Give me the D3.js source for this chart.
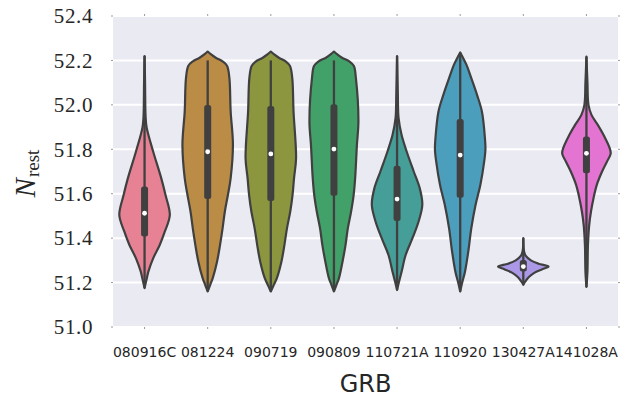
<!DOCTYPE html>
<html>
<head>
<meta charset="utf-8">
<script src="https://cdn.jsdelivr.net/npm/d3@7/dist/d3.min.js"></script>
<style>
  body { margin: 0; background: #ffffff; }
  svg { display: block; }
</style>
</head>
<body>
<svg id="chart" width="627" height="400"></svg>
<script>
// GRB identifiers on the x axis
const categories = ["080916C", "081224", "090719", "090809", "110721A", "110920", "130427A", "141028A"];

// husl palette, softened before use
const baseColors = ["#f77189", "#ce9032", "#97a431", "#32b166", "#36ada4", "#39a7d0", "#a48cf4", "#f561dd"];

// Violin outlines: [N_rest value, relative half-width], top to bottom
const shape080916C = [[52.22,0],[52.10,0.02],[51.95,0.04],[51.90,0.08],[51.79,0.34],[51.67,0.66],[51.594,0.83],[51.504,1.0],[51.429,0.80],[51.369,0.60],[51.309,0.34],[51.249,0.15],[51.22,0.09],[51.175,0]];
const shape081224  = [[52.24,0],[52.228,0.12],[52.212,0.32],[52.195,0.60],[52.175,0.77],[52.12,0.86],[51.97,0.91],[51.82,1.0],[51.67,0.91],[51.594,0.80],[51.52,0.68],[51.444,0.59],[51.37,0.49],[51.294,0.37],[51.22,0.20],[51.19,0.10],[51.16,0]];
const shape090719  = [[52.24,0],[52.228,0.12],[52.212,0.32],[52.195,0.60],[52.175,0.76],[52.12,0.85],[51.97,0.90],[51.76,1.0],[51.67,0.92],[51.594,0.86],[51.52,0.77],[51.444,0.64],[51.37,0.54],[51.294,0.42],[51.22,0.24],[51.19,0.12],[51.16,0]];
const shape090809  = [[52.24,0],[52.228,0.12],[52.212,0.32],[52.195,0.62],[52.175,0.79],[52.12,0.87],[51.924,0.97],[51.82,0.91],[51.67,0.84],[51.594,0.78],[51.52,0.68],[51.444,0.55],[51.37,0.46],[51.294,0.34],[51.22,0.20],[51.19,0.10],[51.16,0]];
const shape110721A = [[52.22,0],[52.05,0.03],[51.94,0.06],[51.864,0.18],[51.79,0.38],[51.70,0.66],[51.624,0.90],[51.55,1.0],[51.474,0.85],[51.40,0.61],[51.324,0.34],[51.249,0.18],[51.20,0.07],[51.167,0]];
const shape110920  = [[52.236,0],[52.18,0.25],[52.12,0.44],[52.044,0.67],[51.97,0.86],[51.85,0.98],[51.80,1.0],[51.744,0.95],[51.64,0.80],[51.55,0.61],[51.444,0.44],[51.339,0.32],[51.249,0.19],[51.20,0.08],[51.16,0]];
const shape130427A = [[51.40,0],[51.34,0.03],[51.32,0.10],[51.30,0.30],[51.285,0.60],[51.272,1.0],[51.26,0.75],[51.245,0.45],[51.225,0.22],[51.205,0.08],[51.19,0]];
const shape141028A = [[52.217,0],[52.10,0.04],[52.0,0.08],[51.955,0.20],[51.91,0.45],[51.864,0.68],[51.805,0.92],[51.78,0.96],[51.744,0.81],[51.70,0.62],[51.64,0.41],[51.58,0.28],[51.52,0.18],[51.46,0.11],[51.37,0.06],[51.25,0.04],[51.18,0]];
const shapes = [shape080916C, shape081224, shape090719, shape090809, shape110721A, shape110920, shape130427A, shape141028A];

// Inner box statistics per GRB
const q1Values      = [51.407, 51.576, 51.567, 51.591, 51.477, 51.582, 51.250, 51.692];
const medianValues  = [51.512, 51.789, 51.779, 51.801, 51.576, 51.774, 51.272, 51.782];
const q3Values      = [51.632, 51.999, 51.995, 52.003, 51.726, 51.936, 51.302, 51.857];
const whiskerLow    = [51.175, 51.16, 51.16, 51.16, 51.167, 51.16, 51.19, 51.18];
const whiskerHigh   = [52.22, 52.20, 52.20, 52.20, 52.22, 52.236, 51.40, 52.217];

const yTicks = [51.0, 51.2, 51.4, 51.6, 51.8, 52.0, 52.2, 52.4];

const plot = { left: 113, right: 618, top: 16, bottom: 327 };
const gray = "#404040";

const svg = d3.select("#chart");

const x = d3.scaleBand().domain(categories).range([plot.left, plot.right]).padding(0);
const y = d3.scaleLinear().domain([51.0, 52.4]).range([plot.bottom, plot.top]);
const halfMax = x.bandwidth() * 0.4;
const w = d3.scaleLinear().domain([0, 1]).range([0, halfMax]);

const fills = baseColors.map(c => { const h = d3.hsl(c); h.s *= 0.75; return h.formatHex(); });

// background
svg.append("rect")
  .attr("x", plot.left).attr("y", plot.top)
  .attr("width", plot.right - plot.left).attr("height", plot.bottom - plot.top)
  .attr("fill", "#eaeaf2");

// horizontal grid
svg.append("g").selectAll("line").data(yTicks).join("line")
  .attr("x1", plot.left).attr("x2", plot.right)
  .attr("y1", d => y(d)).attr("y2", d => y(d))
  .attr("stroke", "#ffffff").attr("stroke-width", 2);

// tiny tick marks on all four sides
const tickColor = "#9a9a9a";
const tk = svg.append("g").attr("stroke", tickColor).attr("stroke-width", 1);
yTicks.forEach(t => {
  tk.append("line").attr("x1", plot.left - 2).attr("x2", plot.left).attr("y1", y(t)).attr("y2", y(t));
  tk.append("line").attr("x1", plot.right).attr("x2", plot.right + 2).attr("y1", y(t)).attr("y2", y(t));
});
categories.forEach(c => {
  const cx = x(c) + x.bandwidth() / 2;
  tk.append("line").attr("x1", cx).attr("x2", cx).attr("y1", plot.top - 2).attr("y2", plot.top);
  tk.append("line").attr("x1", cx).attr("x2", cx).attr("y1", plot.bottom).attr("y2", plot.bottom + 2);
});

// y tick labels
svg.append("g").selectAll("text").data(yTicks).join("text")
  .attr("x", plot.left - 20).attr("y", d => y(d))
  .attr("dy", "0.35em")
  .attr("text-anchor", "end")
  .attr("font-family", "'Liberation Serif', serif")
  .attr("font-size", 21)
  .attr("letter-spacing", 0.6)
  .attr("fill", "#262626")
  .text(d => d.toFixed(1));

// x tick labels
svg.append("g").selectAll("text").data(categories).join("text")
  .attr("x", d => x(d) + x.bandwidth() / 2).attr("y", 357)
  .attr("text-anchor", "middle")
  .attr("font-family", "'DejaVu Sans', sans-serif")
  .attr("font-size", 14)
  .attr("fill", "#262626")
  .text(d => d);

// axis titles
svg.append("text")
  .attr("x", (plot.left + plot.right) / 2).attr("y", 392)
  .attr("text-anchor", "middle")
  .attr("font-family", "'DejaVu Sans', sans-serif")
  .attr("font-size", 24)
  .attr("fill", "#262626")
  .text("GRB");

const yl = svg.append("text")
  .attr("transform", `translate(35,${(plot.top + plot.bottom) / 2 + 2}) rotate(-90)`)
  .attr("text-anchor", "middle")
  .attr("font-family", "'Liberation Serif', serif")
  .attr("fill", "#262626");
yl.append("tspan").attr("font-style", "italic").attr("font-size", 29).text("N");
yl.append("tspan").attr("font-size", 19).attr("dy", 4).attr("dx", 1).text("rest");

// violins
const violin = d3.area()
  .curve(d3.curveCatmullRom.alpha(0.5))
  .y(d => y(d[0]));

const g = svg.append("g");
categories.forEach((c, i) => {
  const cx = x(c) + x.bandwidth() / 2;
  violin.x0(d => cx - w(d[1])).x1(d => cx + w(d[1]));
  g.append("path")
    .attr("d", violin(shapes[i]))
    .attr("fill", fills[i])
    .attr("stroke", gray)
    .attr("stroke-width", 2.2)
    .attr("stroke-linejoin", "round");
  g.append("line")
    .attr("x1", cx).attr("x2", cx)
    .attr("y1", y(whiskerLow[i])).attr("y2", y(whiskerHigh[i]))
    .attr("stroke", gray).attr("stroke-width", 2.3);
  // interquartile bar, lightly rounded ends
  const top = y(q3Values[i]), bot = y(q1Values[i]);
  g.append("rect")
    .attr("x", cx - 3.5).attr("width", 7)
    .attr("y", top).attr("height", bot - top)
    .attr("rx", 2.5)
    .attr("fill", gray);
  g.append("circle")
    .attr("cx", cx).attr("cy", y(medianValues[i]))
    .attr("r", 2.4)
    .attr("fill", "#ffffff");
});
</script>
</body>
</html>
